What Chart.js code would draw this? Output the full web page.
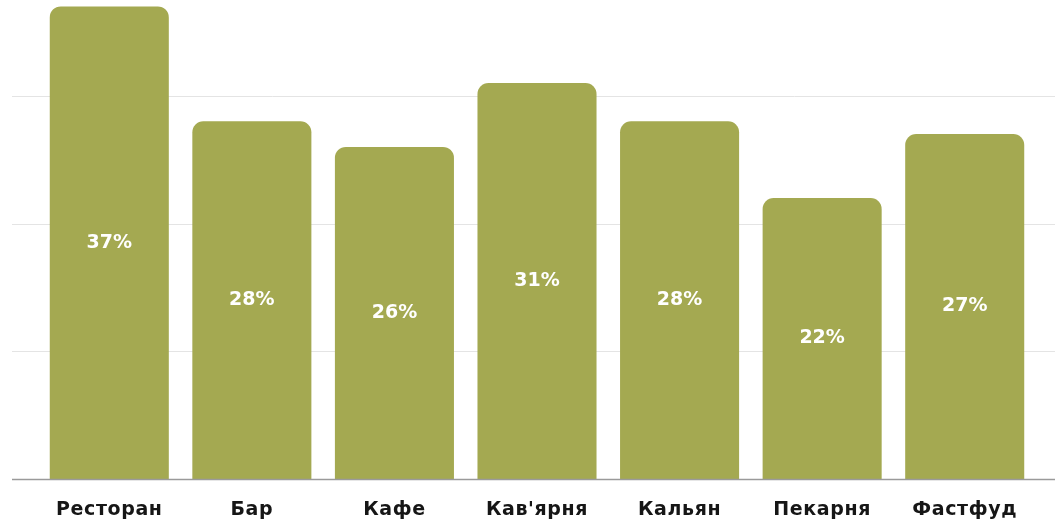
<!DOCTYPE html>
<html>
<head>
<meta charset="utf-8">
<script src="https://cdn.jsdelivr.net/npm/chart.js@4.4.1/dist/chart.umd.min.js"></script>
<style>
  html, body { margin: 0; padding: 0; background: #fff; }
  #wrap { width: 1055px; height: 525px; }
</style>
</head>
<body>
<div id="wrap"><canvas id="chart"></canvas></div>
<script>
// venue types and share of respondents (%)
const categories = ["Ресторан", "Бар", "Кафе", "Кав'ярня", "Кальян", "Пекарня", "Фастфуд"];
const shares = [37, 28, 26, 31, 28, 22, 27];
const gridValues = [10, 20, 30];

const barColor = '#a4a951';
const fontFamily = '"DejaVu Sans", "Noto Sans", sans-serif';

// light gridlines + baseline, wider than the bar area
const gridPlugin = {
    id: 'wideGrid',
    beforeDraw(chart) {
        // a little tracking for the category labels
        chart.ctx.letterSpacing = '0.6px';
    },
    beforeDatasetsDraw(chart) {
        const ctx = chart.ctx;
        const y = chart.scales.y;
        const left = 12, right = chart.width;
        ctx.save();
        ctx.lineWidth = 1;
        ctx.strokeStyle = '#e4e4e4';
        gridValues.forEach(v => {
            const py = Math.round(y.getPixelForValue(v)) + 0.5;
            ctx.beginPath();
            ctx.moveTo(left, py);
            ctx.lineTo(right, py);
            ctx.stroke();
        });
        ctx.restore();
    },
    afterDatasetsDraw(chart) {
        const ctx = chart.ctx;
        const y = chart.scales.y;
        const py = Math.round(y.getPixelForValue(0)) + 0.5;
        ctx.save();
        ctx.strokeStyle = '#9a9a9a';
        ctx.lineWidth = 1.5;
        ctx.beginPath();
        ctx.moveTo(12, py);
        ctx.lineTo(chart.width, py);
        ctx.stroke();
        ctx.restore();
    }
};

// white percent labels in the middle of each bar
const valueLabels = {
    id: 'valueLabels',
    afterDatasetsDraw(chart) {
        const ctx = chart.ctx;
        const meta = chart.getDatasetMeta(0);
        ctx.save();
        ctx.letterSpacing = '0px';
        ctx.fillStyle = '#ffffff';
        ctx.font = 'bold 19px ' + fontFamily;
        ctx.textAlign = 'center';
        ctx.textBaseline = 'middle';
        meta.data.forEach((bar, i) => {
            const mid = (bar.y + bar.base) / 2;
            ctx.fillText(shares[i] + '%', bar.x, mid);
        });
        ctx.restore();
    }
};

new Chart(document.getElementById('chart'), {
    type: 'bar',
    data: {
        labels: categories,
        datasets: [{
            data: shares,
            backgroundColor: barColor,
            hoverBackgroundColor: barColor,
            borderRadius: { topLeft: 11, topRight: 11, bottomLeft: 0, bottomRight: 0 },
            borderSkipped: 'bottom',
            categoryPercentage: 1,
            barPercentage: 0.835
        }]
    },
    options: {
        responsive: true,
        maintainAspectRatio: false,
        animation: false,
        layout: { padding: { left: 38, right: 19, top: 0, bottom: 0 } },
        plugins: {
            legend: { display: false },
            tooltip: { enabled: false }
        },
        scales: {
            x: {
                grid: { display: false, drawTicks: false },
                border: { display: false },
                afterFit(scale) { scale.height = 46; },
                ticks: {
                    padding: 20,
                    maxRotation: 0,
                    autoSkip: false,
                    color: '#161616',
                    font: { family: fontFamily, size: 19, weight: 'bold' }
                }
            },
            y: {
                display: false,
                min: 0,
                max: 37.5
            }
        }
    },
    plugins: [gridPlugin, valueLabels]
});
</script>
</body>
</html>
